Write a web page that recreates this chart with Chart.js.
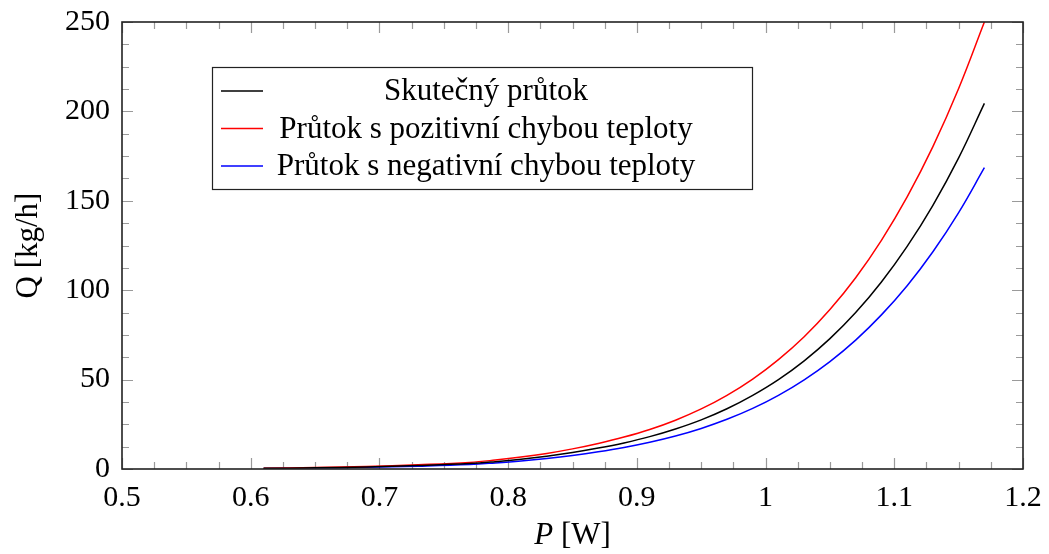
<!DOCTYPE html>
<html>
<head>
<meta charset="utf-8">
<script src="https://cdn.jsdelivr.net/npm/chart.js@4.4.1/dist/chart.umd.min.js"></script>
<style>
  html, body { margin: 0; padding: 0; background: #fff; }
  #wrap { width: 1049px; height: 554px; }
</style>
</head>
<body>
<div id="wrap"><canvas id="flowChart" width="1049" height="554"></canvas></div>
<script>
// Data
const pValues   = [0.61, 0.65, 0.69, 0.73, 0.77, 0.79, 0.81, 0.83, 0.85, 0.87, 0.89, 0.91, 0.93, 0.95, 0.97, 0.99, 1.01, 1.03, 1.05, 1.07, 1.09, 1.11, 1.13, 1.15, 1.17];
const qActual   = [0.35, 0.65, 1.15, 1.95, 3.05, 4.1, 5.45, 7.15, 9.2, 11.7, 14.6, 18.1, 22.4, 27.5, 33.7, 41.2, 50.0, 60.5, 72.9, 87.5, 104.6, 124.5, 147.5, 174.0, 204.5];
const qPositive = [0.45, 0.8, 1.42, 2.4, 3.7, 5.0, 6.65, 8.7, 11.25, 14.3, 17.85, 22.1, 27.3, 33.6, 41.2, 50.3, 61.2, 74.0, 89.2, 107.0, 127.9, 152.2, 180.3, 212.8, 250];
const qNegative = [0.28, 0.52, 0.93, 1.58, 2.5, 3.4, 4.5, 5.9, 7.6, 9.65, 12.05, 14.95, 18.45, 22.7, 27.8, 33.9, 41.2, 49.9, 60.1, 72.1, 86.2, 102.5, 121.5, 143.4, 168.5];

const seriesLabels = ['Skutečný průtok', 'Průtok s pozitivní chybou teploty', 'Průtok s negativní chybou teploty'];
const seriesColors = ['#000000', '#ff0000', '#0000ff'];
const xTitle = ['P', ' [W]'];
const yTitle = 'Q [kg/h]';

const FONT = '"Liberation Serif", "DejaVu Serif", serif';

function points(ys) {
    return pValues.map((p, i) => ({ x: p, y: ys[i] }));
}

function noPad(scale) {
    scale.paddingTop = 0;
    scale.paddingBottom = 0;
    scale.paddingLeft = 0;
    scale.paddingRight = 0;
}

// inside ticks on all four sides + frame
const frameTicks = {
    id: 'frameTicks',
    beforeDatasetsDraw(chart) {
        const { ctx, chartArea: a, scales: { x, y } } = chart;
        ctx.save();
        ctx.strokeStyle = '#9a9a9a';
        ctx.lineWidth = 1.2;
        const xt = x.ticks.map(t => t.value);
        const yt = y.ticks.map(t => t.value);
        const xs = [], ys = [];
        for (let i = 0; i < xt.length; i++) {
            xs.push([xt[i], 11]);
            if (i < xt.length - 1) {
                const d = (xt[i + 1] - xt[i]) / 4;
                for (let k = 1; k < 4; k++) xs.push([xt[i] + d * k, 7]);
            }
        }
        for (let i = 0; i < yt.length; i++) {
            ys.push([yt[i], 11]);
            if (i < yt.length - 1) {
                const d = (yt[i + 1] - yt[i]) / 4;
                for (let k = 1; k < 4; k++) ys.push([yt[i] + d * k, 7]);
            }
        }
        ctx.beginPath();
        xs.forEach(([v, len]) => {
            const px = Math.round(x.getPixelForValue(v)) + 0.5;
            ctx.moveTo(px, a.bottom); ctx.lineTo(px, a.bottom - len);
            ctx.moveTo(px, a.top); ctx.lineTo(px, a.top + len);
        });
        ys.forEach(([v, len]) => {
            const py = Math.round(y.getPixelForValue(v)) + 0.5;
            ctx.moveTo(a.left, py); ctx.lineTo(a.left + len, py);
            ctx.moveTo(a.right, py); ctx.lineTo(a.right - len, py);
        });
        ctx.stroke();
        ctx.restore();
    },
    afterDatasetsDraw(chart) {
        const { ctx, chartArea: a } = chart;
        ctx.save();
        ctx.strokeStyle = '#222';
        ctx.lineWidth = 1.6;
        ctx.strokeRect(a.left, a.top, a.right - a.left, a.bottom - a.top);
        ctx.restore();
    }
};

// axis titles (italic P on the x axis)
const axisTitles = {
    id: 'axisTitles',
    afterDraw(chart) {
        const { ctx, chartArea: a } = chart;
        ctx.save();
        ctx.fillStyle = '#000';
        ctx.textBaseline = 'middle';
        ctx.font = 'italic 31px ' + FONT;
        const w1 = ctx.measureText(xTitle[0]).width;
        ctx.font = '31px ' + FONT;
        const w2 = ctx.measureText(xTitle[1]).width;
        let sx = (a.left + a.right) / 2 - (w1 + w2) / 2;
        ctx.textAlign = 'left';
        ctx.font = 'italic 31px ' + FONT;
        ctx.fillText(xTitle[0], sx, 536);
        ctx.font = '31px ' + FONT;
        ctx.fillText(xTitle[1], sx + w1, 536);

        ctx.translate(29, (a.top + a.bottom) / 2);
        ctx.rotate(-Math.PI / 2);
        ctx.textAlign = 'center';
        ctx.fillText(yTitle, 0, 0);
        ctx.restore();
    }
};

// legend box inside the plot
const boxLegend = {
    id: 'boxLegend',
    afterDraw(chart) {
        const { ctx } = chart;
        const bx = 212, by = 67, bw = 540, bh = 122;
        ctx.save();
        ctx.fillStyle = '#fff';
        ctx.fillRect(bx, by, bw, bh);
        ctx.strokeStyle = '#222';
        ctx.lineWidth = 1.2;
        ctx.strokeRect(bx + 0.5, by + 0.5, bw, bh);
        ctx.font = '31px ' + FONT;
        ctx.textAlign = 'center';
        ctx.textBaseline = 'middle';
        chart.data.datasets.forEach((ds, i) => {
            const cy = by + 24 + i * 37.5;
            ctx.strokeStyle = ds.borderColor;
            ctx.lineWidth = 1.4;
            ctx.beginPath();
            ctx.moveTo(221, cy);
            ctx.lineTo(263, cy);
            ctx.stroke();
            ctx.fillStyle = '#000';
            ctx.fillText(ds.label, 486, cy + 1);
        });
        ctx.restore();
    }
};

const ctx = document.getElementById('flowChart').getContext('2d');
new Chart(ctx, {
    type: 'line',
    data: {
        datasets: [qActual, qPositive, qNegative].map((ys, i) => ({
            label: seriesLabels[i],
            data: points(ys),
            borderColor: seriesColors[i],
            borderWidth: 1.5,
            pointRadius: 0,
            fill: false,
            tension: 0.4
        }))
    },
    options: {
        responsive: false,
        animation: false,
        layout: { padding: { left: 0, right: 26, top: 22, bottom: 0 } },
        plugins: {
            legend: { display: false },
            tooltip: { enabled: false }
        },
        scales: {
            x: {
                type: 'linear',
                min: 0.5,
                max: 1.2,
                grid: { display: false },
                border: { display: false },
                afterFit(scale) { scale.height = 85; noPad(scale); },
                ticks: {
                    stepSize: 0.1,
                    padding: 3,
                    color: '#000',
                    font: { family: FONT, size: 30 },
                    maxRotation: 0,
                    callback: v => String(Number(v.toFixed(2)))
                }
            },
            y: {
                min: 0,
                max: 250,
                grid: { display: false },
                border: { display: false },
                afterFit(scale) { scale.width = 122; noPad(scale); },
                ticks: {
                    stepSize: 50,
                    padding: 4,
                    color: '#000',
                    font: { family: FONT, size: 30 }
                }
            }
        }
    },
    plugins: [frameTicks, axisTitles, boxLegend]
});
</script>
</body>
</html>
